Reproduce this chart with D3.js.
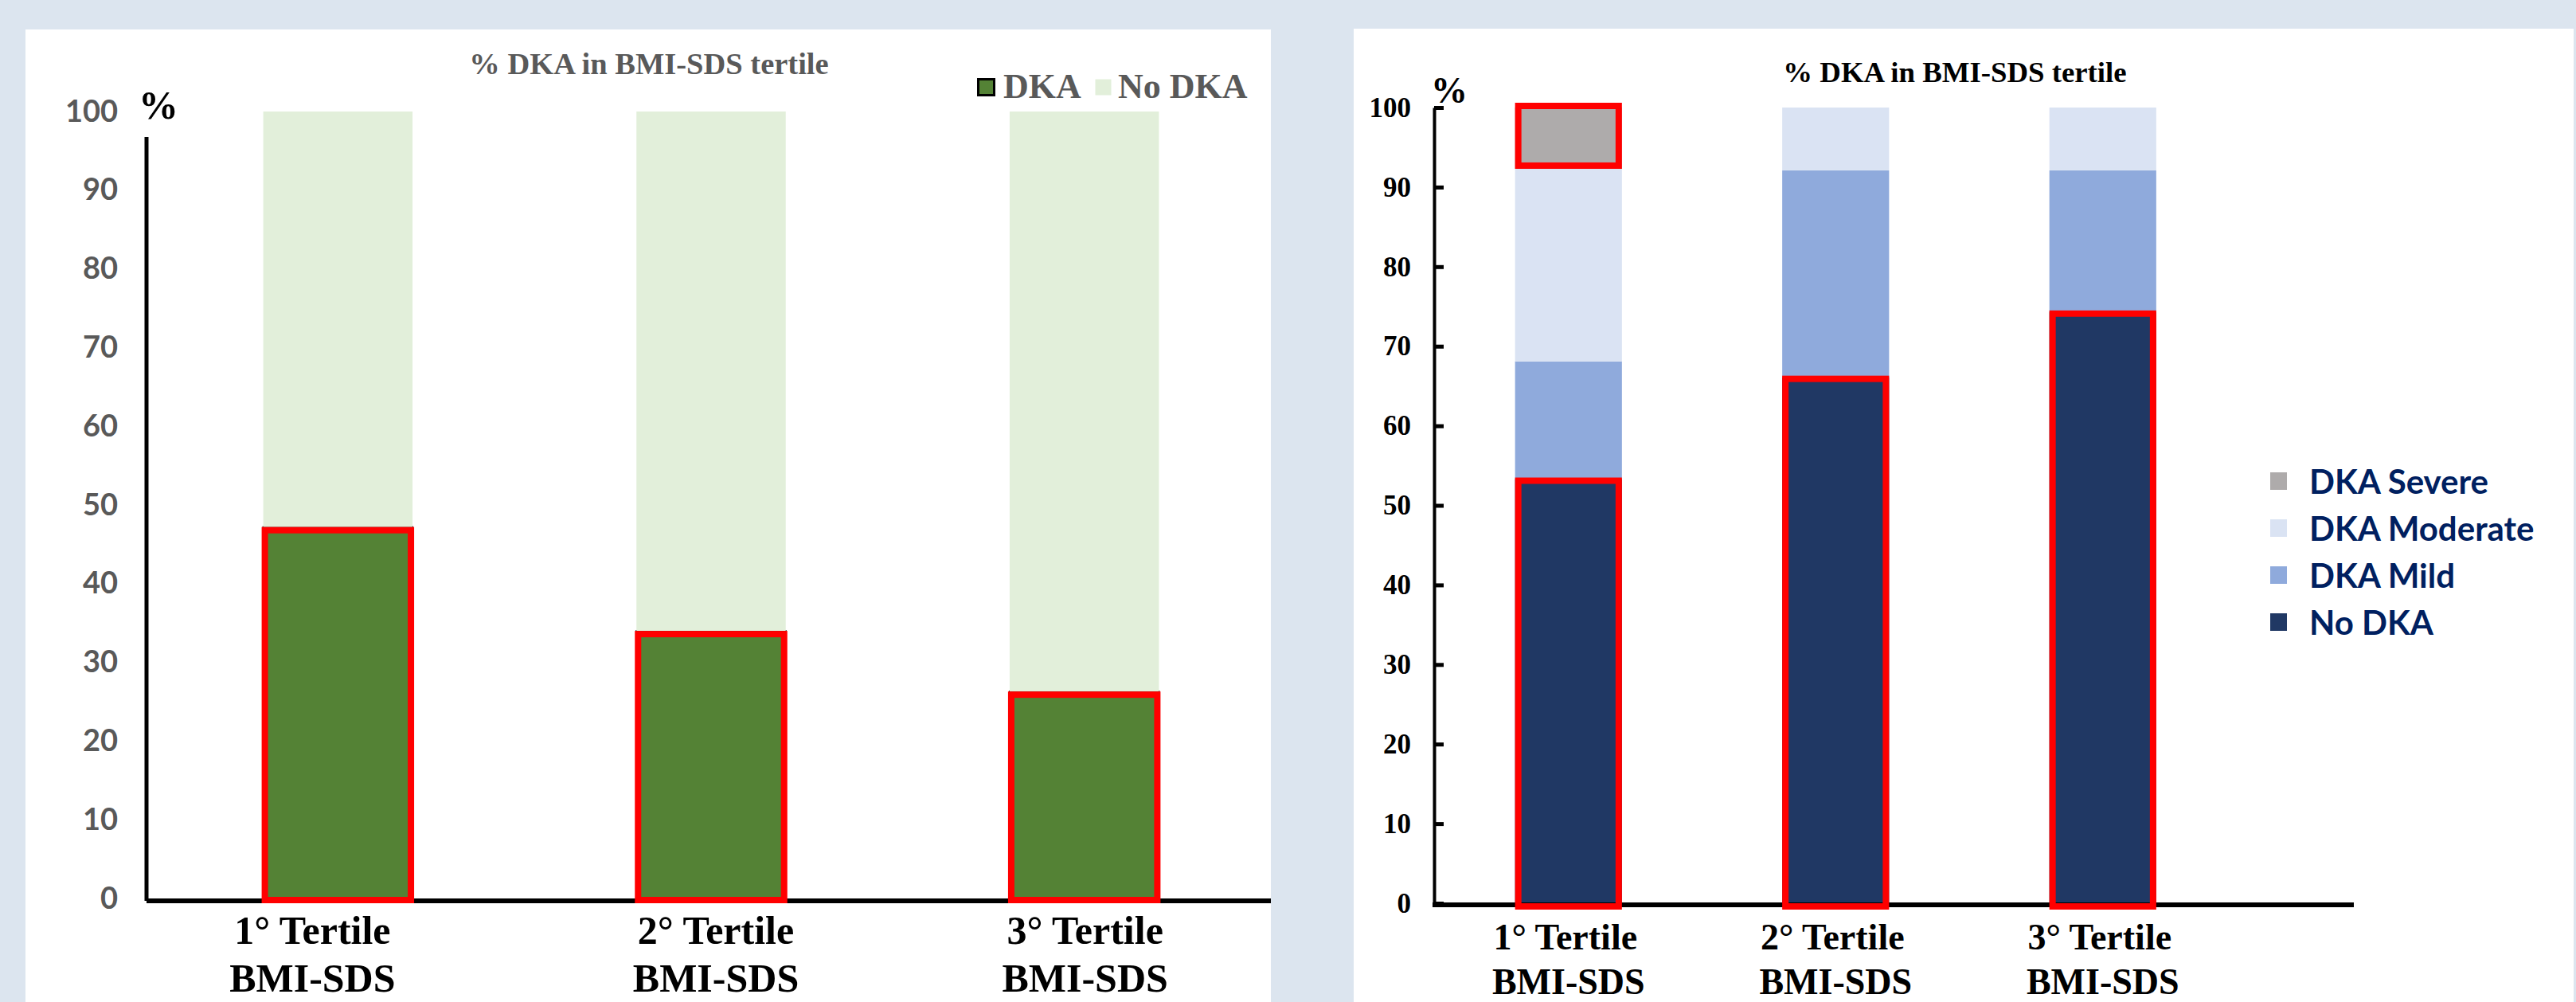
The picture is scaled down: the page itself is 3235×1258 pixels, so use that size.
<!DOCTYPE html>
<html>
<head>
<meta charset="utf-8">
<script src="https://cdn.jsdelivr.net/npm/d3@7"></script>
<style>
  html, body { margin: 0; padding: 0; background: #DCE5EF; }
  svg { display: block; }
</style>
</head>
<body>
<svg id="chart" width="3235" height="1258"></svg>
<script>
// ---- data -------------------------------------------------------------
const tertiles = ["1° Tertile", "2° Tertile", "3° Tertile"];
const tertileSub = "BMI-SDS";

// left panel: DKA vs no DKA (%)
const dkaPct = [47.2, 34.0, 26.3];
const noDkaPct = [52.8, 66.0, 73.7];

// right panel: DKA severity breakdown (%)
const sevNoDka = [53.3, 66.1, 74.3];
const sevMild = [14.8, 26.0, 17.8];
const sevModerate = [24.2, 7.9, 7.9];
const sevSevere = [7.7, 0, 0];

const yTicks = [0, 10, 20, 30, 40, 50, 60, 70, 80, 90, 100];
const titleText = "% DKA in BMI-SDS tertile";

// ---- styles -----------------------------------------------------------
const SERIF = "'Liberation Serif', 'Times New Roman', serif";
const SANS = "Lato, 'Open Sans', sans-serif";
const RED = "#FF0000";

const svg = d3.select("#chart");

// white panels
svg.append("rect").attr("x", 32).attr("y", 37).attr("width", 1564).attr("height", 1221).attr("fill", "#ffffff");
svg.append("rect").attr("x", 1700).attr("y", 36).attr("width", 1532).attr("height", 1222).attr("fill", "#ffffff");

// =======================================================================
// Left panel
// =======================================================================
(function () {
  const g = svg.append("g");
  const x = d3.scaleBand().domain(tertiles).range([190, 1596]).paddingInner(0.6).paddingOuter(0.3);
  const y = d3.scaleLinear().domain([0, 100]).range([1128, 140]);

  const rows = tertiles.map((t, i) => ({ t, dka: dkaPct[i], no: noDkaPct[i] }));
  const stack = d3.stack().keys(["dka", "no"])(rows);
  const fills = { dka: "#548235", no: "#E2EFDA" };

  stack.forEach(layer => {
    g.append("g").selectAll("rect").data(layer).join("rect")
      .attr("x", d => x(d.data.t))
      .attr("width", x.bandwidth())
      .attr("y", d => y(d[1]))
      .attr("height", d => y(d[0]) - y(d[1]))
      .attr("fill", fills[layer.key])
      .attr("stroke", layer.key === "dka" ? "#1a1a1a" : "none")
      .attr("stroke-width", 2);
  });

  // y axis labels
  const ax = g.append("g").attr("transform", "translate(184,0)")
    .call(d3.axisLeft(y).tickValues(yTicks).tickSize(0).tickPadding(36));
  ax.select(".domain").remove();
  ax.selectAll("text")
    .attr("font-family", SANS).attr("font-weight", 700).attr("font-size", 38)
    .attr("fill", "#595959");

  // axis lines
  g.append("line").attr("x1", 184).attr("x2", 184).attr("y1", 172).attr("y2", 1131)
    .attr("stroke", "#000").attr("stroke-width", 5);
  g.append("line").attr("x1", 184).attr("x2", 1596).attr("y1", y(0) + 3).attr("y2", y(0) + 3)
    .attr("stroke", "#000").attr("stroke-width", 6);

  // highlight boxes around DKA segments
  g.append("g").selectAll("rect").data(rows).join("rect")
    .attr("x", d => x(d.t) + 2)
    .attr("width", x.bandwidth() - 4)
    .attr("y", d => y(d.dka) + 4)
    .attr("height", d => y(0) + 2 - (y(d.dka) + 4))
    .attr("fill", "none").attr("stroke", RED).attr("stroke-width", 8);

  // category labels
  const labelNudge = [-32, 6, 1];
  const lab = g.append("g").selectAll("text").data(tertiles).join("text")
    .attr("x", (d, i) => x(d) + x.bandwidth() / 2 + labelNudge[i])
    .attr("text-anchor", "middle")
    .attr("font-family", SERIF).attr("font-weight", 700).attr("font-size", 50).attr("fill", "#000");
  lab.append("tspan").attr("y", 1185).attr("x", (d, i) => x(d) + x.bandwidth() / 2 + labelNudge[i]).text(d => d);
  lab.append("tspan").attr("y", 1245).attr("x", (d, i) => x(d) + x.bandwidth() / 2 + labelNudge[i]).text(tertileSub);

  // percent sign
  g.append("text").attr("x", 174).attr("y", 149)
    .attr("font-family", SERIF).attr("font-weight", 700).attr("font-size", 50).attr("fill", "#000").text("%");

  // title
  g.append("text").attr("x", 815).attr("y", 93).attr("text-anchor", "middle")
    .attr("font-family", SERIF).attr("font-weight", 700).attr("font-size", 38.5).attr("fill", "#595959")
    .text(titleText);

  // legend
  const leg = [
    { key: "DKA", fill: fills.dka, stroke: "#000", sx: 1227, tx: 1260 },
    { key: "No DKA", fill: fills.no, stroke: "none", sx: 1374, tx: 1404 }
  ];
  leg.forEach(l => {
    g.append("rect").attr("x", l.sx + 1.5).attr("y", 99.5).attr("width", 20).attr("height", 20)
      .attr("fill", l.fill).attr("stroke", l.stroke).attr("stroke-width", 3);
    g.append("text").attr("x", l.tx).attr("y", 123)
      .attr("font-family", SERIF).attr("font-weight", 700).attr("font-size", 44).attr("fill", "#595959")
      .text(l.key);
  });
})();

// =======================================================================
// Right panel
// =======================================================================
(function () {
  const g = svg.append("g");
  const x = d3.scaleBand().domain(tertiles).range([1802, 2808.5]).paddingInner(0.6).paddingOuter(0.3);
  const y = d3.scaleLinear().domain([0, 100]).range([1134, 135]);

  const keys = ["noDka", "mild", "moderate", "severe"];
  const fills = { noDka: "#203864", mild: "#8FAADC", moderate: "#DAE3F3", severe: "#AEABAB" };
  const names = { noDka: "No DKA", mild: "DKA Mild", moderate: "DKA Moderate", severe: "DKA Severe" };
  const rows = tertiles.map((t, i) => ({
    t, noDka: sevNoDka[i], mild: sevMild[i], moderate: sevModerate[i], severe: sevSevere[i]
  }));
  const stack = d3.stack().keys(keys)(rows);

  stack.forEach(layer => {
    g.append("g").selectAll("rect").data(layer.filter(d => d[1] > d[0])).join("rect")
      .attr("x", d => x(d.data.t))
      .attr("width", x.bandwidth())
      .attr("y", d => y(d[1]))
      .attr("height", d => y(d[0]) - y(d[1]))
      .attr("fill", fills[layer.key]);
  });

  // y axis with inward ticks
  const ax = g.append("g").attr("transform", "translate(1801,0)")
    .call(d3.axisLeft(y).tickValues(yTicks).tickSizeInner(-12).tickSizeOuter(0).tickPadding(29));
  ax.select(".domain").attr("stroke", "#000").attr("stroke-width", 4);
  ax.selectAll(".tick line").attr("stroke", "#000").attr("stroke-width", 5);
  ax.selectAll("text")
    .attr("font-family", SERIF).attr("font-weight", 700).attr("font-size", 35).attr("fill", "#000");

  // x axis line
  g.append("line").attr("x1", 1799).attr("x2", 2956).attr("y1", y(0) + 2).attr("y2", y(0) + 2)
    .attr("stroke", "#000").attr("stroke-width", 6);

  // highlight boxes: no-DKA segments and the severe segment
  const noLayer = stack.find(s => s.key === "noDka");
  g.append("g").selectAll("rect").data(noLayer).join("rect")
    .attr("x", d => x(d.data.t) + 4)
    .attr("width", x.bandwidth() - 8)
    .attr("y", d => y(d[1]) + 2)
    .attr("height", d => y(0) + 4 - (y(d[1]) + 2))
    .attr("fill", "none").attr("stroke", RED).attr("stroke-width", 8);
  const sevLayer = stack.find(s => s.key === "severe");
  g.append("g").selectAll("rect").data(sevLayer.filter(d => d[1] > d[0])).join("rect")
    .attr("x", d => x(d.data.t) + 4)
    .attr("width", x.bandwidth() - 8)
    .attr("y", d => y(d[1]) - 2)
    .attr("height", d => y(d[0]) - 4 - (y(d[1]) - 2))
    .attr("fill", "none").attr("stroke", RED).attr("stroke-width", 8);

  // category labels
  const lab = g.append("g").selectAll("text").data(tertiles).join("text")
    .attr("text-anchor", "middle")
    .attr("font-family", SERIF).attr("font-weight", 700).attr("font-size", 46).attr("fill", "#000");
  lab.append("tspan").attr("y", 1192).attr("x", d => x(d) + x.bandwidth() / 2 - 4).text(d => d);
  lab.append("tspan").attr("y", 1248).attr("x", d => x(d) + x.bandwidth() / 2).text(tertileSub);

  // percent sign
  g.append("text").attr("x", 1797).attr("y", 129)
    .attr("font-family", SERIF).attr("font-weight", 700).attr("font-size", 46).attr("fill", "#000").text("%");

  // title
  g.append("text").attr("x", 2455).attr("y", 103).attr("text-anchor", "middle")
    .attr("font-family", SERIF).attr("font-weight", 700).attr("font-size", 36.8).attr("fill", "#000")
    .text(titleText);

  // legend (top to bottom: severe, moderate, mild, no DKA)
  const legKeys = ["severe", "moderate", "mild", "noDka"];
  const lg = g.append("g");
  legKeys.forEach((k, i) => {
    const cy = 604 + i * 59;
    lg.append("rect").attr("x", 2851).attr("y", cy - 11).attr("width", 21).attr("height", 22)
      .attr("fill", fills[k]);
    lg.append("text").attr("x", 2900).attr("y", cy + 16)
      .attr("font-family", SANS).attr("font-weight", 700).attr("font-size", 42).attr("fill", "#002060")
      .text(names[k]);
  });
})();
</script>
</body>
</html>
